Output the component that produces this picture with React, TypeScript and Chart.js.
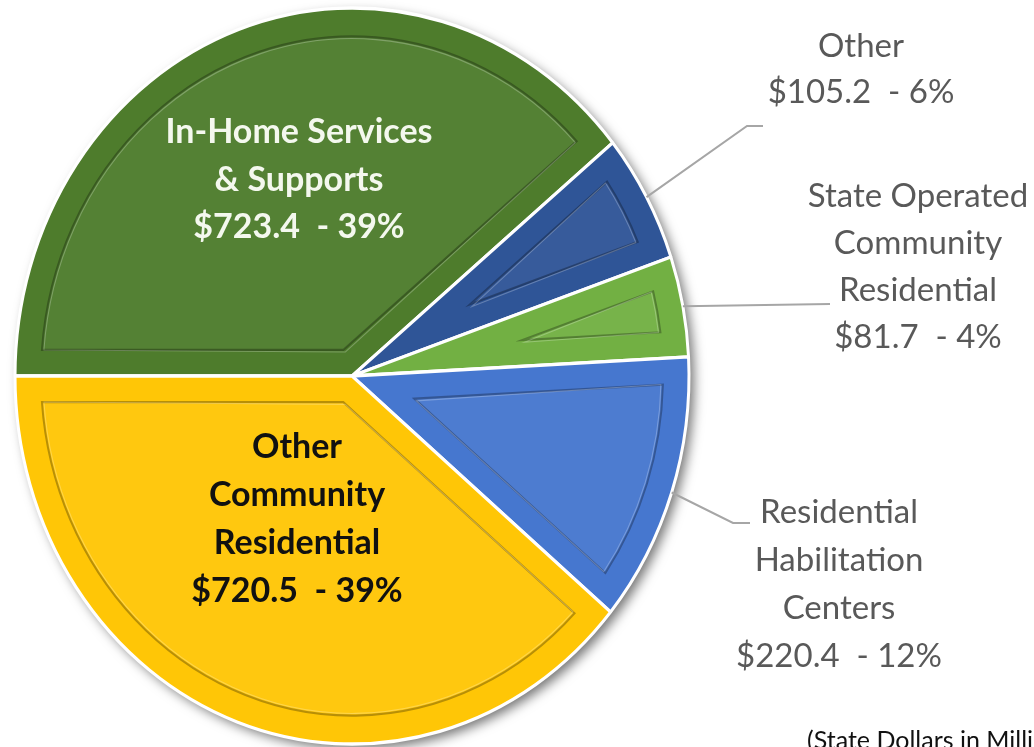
import React, { useEffect, useRef } from 'react';
import { Chart, registerables } from 'chart.js';

Chart.register(...registerables);

// ---- data ----
const categories = [
  'In-Home Services & Supports',
  'Other',
  'State Operated Community Residential',
  'Residential Habilitation Centers',
  'Other Community Residential',
];
const amounts = [723.4, 105.2, 81.7, 220.4, 720.5];
const percents = [39, 6, 4, 12, 39];
const labelLines = [
  ['In-Home Services', '& Supports'],
  ['Other'],
  ['State Operated', 'Community', 'Residential'],
  ['Residential', 'Habilitation', 'Centers'],
  ['Other', 'Community', 'Residential'],
];
const note = '(State Dollars in Millions)';

// ---- styles / layout ----
const sliceColors = ['#4E7C2C', '#2F5597', '#72B043', '#4677CF', '#FFC606'];
const FONT = 'Lato, "Open Sans", sans-serif';
const SCALE_Y = 368 / 337;

type LabelLayout = {
  cx: number;
  baseY: number;
  gap: number;
  bold: boolean;
  size: number;
  color: string;
  elbow?: [number, number][];
};
const labelLayout: LabelLayout[] = [
  { cx: 299, baseY: 143, gap: 47.5, bold: true, size: 34, color: '#F4F8EE' },
  { cx: 861, baseY: 57, gap: 46, bold: false, size: 33, color: '#595959', elbow: [[747, 126], [763, 126]] },
  { cx: 918, baseY: 207, gap: 47, bold: false, size: 33, color: '#595959', elbow: [[830, 304]] },
  { cx: 839, baseY: 523, gap: 48, bold: false, size: 33, color: '#595959', elbow: [[733, 523], [750, 523]] },
  { cx: 297, baseY: 458, gap: 48, bold: true, size: 34, color: '#111111' },
];

const fmtValue = (i: number) => `$${amounts[i].toFixed(1)}  - ${percents[i]}%`;

const ellipsePlugin = {
  id: 'ellipsePie',
  beforeDatasetsDraw(chart: any) {
    const ctx = chart.ctx as CanvasRenderingContext2D;
    const arcs = chart.getDatasetMeta(0).data;
    if (!arcs.length) return;
    const { x, y, outerRadius } = arcs[0];
    ctx.save();
    ctx.translate(x, y);
    ctx.scale(1, SCALE_Y);
    ctx.translate(-x, -y);
    ctx.save();
    ctx.shadowColor = 'rgba(0,0,0,0.55)';
    ctx.shadowBlur = 12;
    ctx.shadowOffsetX = 5;
    ctx.shadowOffsetY = 5;
    ctx.beginPath();
    ctx.arc(x, y, outerRadius, 0, Math.PI * 2);
    ctx.fillStyle = '#ffffff';
    ctx.fill();
    ctx.restore();
  },
  afterDatasetsDraw(chart: any) {
    const ctx = chart.ctx as CanvasRenderingContext2D;
    const arcs = chart.getDatasetMeta(0).data;
    if (!arcs.length) return;
    const d = 24;
    arcs.forEach((el: any) => {
      const { x, y, startAngle: s, endAngle: e, outerRadius } = el;
      const half = (e - s) / 2;
      const mid = (s + e) / 2;
      const ri = outerRadius - d - 2;
      const da = Math.asin(d / ri);
      const apexDist = half < Math.PI / 2 ? d / Math.sin(half) : d;
      const ax = x + Math.cos(mid) * apexDist;
      const ay = y + Math.sin(mid) * apexDist;
      ctx.beginPath();
      ctx.moveTo(ax, ay);
      ctx.arc(x, y, ri, s + da, e - da);
      ctx.closePath();
      ctx.fillStyle = 'rgba(255,255,255,0.04)';
      ctx.fill();
      ctx.lineWidth = 2;
      ctx.strokeStyle = 'rgba(0,0,0,0.28)';
      ctx.stroke();
      ctx.beginPath();
      ctx.moveTo(ax + 2, ay + 2);
      ctx.arc(x, y, ri - 2, s + da, e - da);
      ctx.closePath();
      ctx.lineWidth = 1;
      ctx.strokeStyle = 'rgba(255,255,255,0.25)';
      ctx.stroke();
    });
    ctx.restore();
  },
  afterDraw(chart: any) {
    const ctx = chart.ctx as CanvasRenderingContext2D;
    const arcs = chart.getDatasetMeta(0).data;
    if (!arcs.length) return;
    ctx.save();
    ctx.textAlign = 'center';
    ctx.textBaseline = 'alphabetic';
    labelLayout.forEach((lay, i) => {
      const el: any = arcs[i];
      if (lay.elbow) {
        const mid = (el.startAngle + el.endAngle) / 2;
        const sx = el.x + Math.cos(mid) * el.outerRadius;
        const sy = el.y + Math.sin(mid) * el.outerRadius * SCALE_Y;
        ctx.beginPath();
        ctx.moveTo(sx, sy);
        lay.elbow.forEach(([px, py]) => ctx.lineTo(px, py));
        ctx.strokeStyle = '#A6A6A6';
        ctx.lineWidth = 2;
        ctx.stroke();
      }
      const lines = [...labelLines[i], fmtValue(i)];
      ctx.font = `${lay.bold ? 'bold ' : ''}${lay.size}px ${FONT}`;
      ctx.fillStyle = lay.color;
      lines.forEach((t, k) => ctx.fillText(t, lay.cx, lay.baseY + k * lay.gap));
    });
    ctx.textAlign = 'left';
    ctx.font = `25px ${FONT}`;
    ctx.fillStyle = '#111111';
    ctx.fillText(note, 807, 749);
    ctx.restore();
  },
};

export default function App() {
  const ref = useRef<HTMLCanvasElement | null>(null);
  useEffect(() => {
    if (!ref.current) return;
    const chart = new Chart(ref.current, {
      type: 'pie',
      data: {
        labels: categories,
        datasets: [
          {
            data: amounts,
            backgroundColor: sliceColors,
            borderColor: '#ffffff',
            borderWidth: 3,
            hoverOffset: 0,
            clip: false as any,
          },
        ],
      },
      options: {
        animation: false,
        responsive: false,
        maintainAspectRatio: false,
        devicePixelRatio: 1,
        rotation: -90,
        radius: 337,
        layout: { padding: { left: 15, right: 345, top: 39, bottom: 34 } },
        plugins: { legend: { display: false }, tooltip: { enabled: false }, title: { display: false } },
        events: [],
      } as any,
      plugins: [ellipsePlugin],
    });
    return () => chart.destroy();
  }, []);
  return (
    <div style={{ position: 'fixed', left: 0, top: 0, width: 1034, height: 747, background: '#ffffff' }}>
      <canvas ref={ref} width={1034} height={747} style={{ display: 'block' }} />
    </div>
  );
}
